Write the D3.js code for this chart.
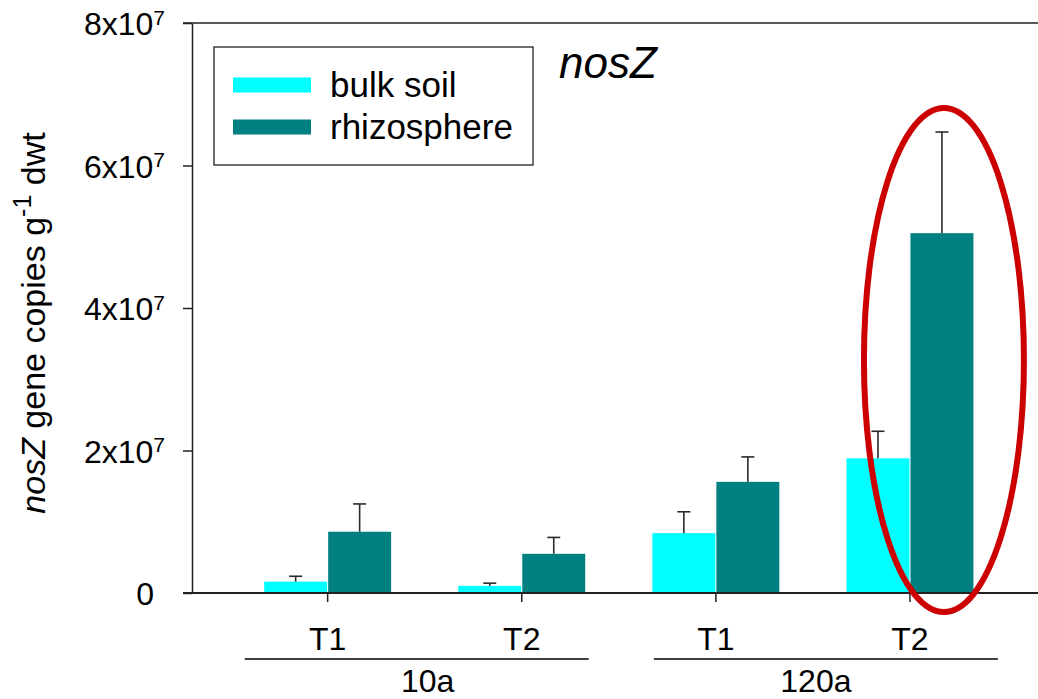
<!DOCTYPE html>
<html>
<head>
<meta charset="utf-8">
<script src="https://cdn.jsdelivr.net/npm/d3@7"></script>
<style>
  html, body { margin: 0; padding: 0; background: #fff; }
  svg { display: block; font-family: "Liberation Sans", Arial, sans-serif; }
</style>
</head>
<body>
<svg id="chart" width="1038" height="699"></svg>
<script>
// nosZ gene abundance: bulk soil vs rhizosphere, two sampling times at two site ages
const categories = ["10a-T1", "10a-T2", "120a-T1", "120a-T2"];
const timeLabels = ["T1", "T2", "T1", "T2"];
const groups = ["10a", "120a"];
const groupMembers = [["10a-T1", "10a-T2"], ["120a-T1", "120a-T2"]];
const seriesNames = ["bulk soil", "rhizosphere"];
const bulkValues = [1.6e6, 1.0e6, 8.4e6, 18.9e6];
const bulkErrors = [0.75e6, 0.38e6, 3.0e6, 3.8e6];
const rhizoValues = [8.6e6, 5.5e6, 15.6e6, 50.5e6];
const rhizoErrors = [3.9e6, 2.3e6, 3.5e6, 14.2e6];
const yTickValues = [0, 2e7, 4e7, 6e7, 8e7];
const yTickLabels = ["0", "2x10|7", "4x10|7", "6x10|7", "8x10|7"];

const colors = { "bulk soil": "#00ffff", "rhizosphere": "#008080" };

const svg = d3.select("#chart");

// plot frame
const plotLeft = 192, plotRight = 1038, plotTop = 23, plotBottom = 593;

const y = d3.scaleLinear().domain([0, 8e7]).range([plotBottom, plotTop]);

const x = d3.scaleBand()
  .domain(categories)
  .range([230.6, 1007])
  .paddingInner(0.346)
  .paddingOuter(0.173);

const xSub = d3.scaleBand()
  .domain(seriesNames)
  .range([0, x.bandwidth()])
  .paddingInner(0.016);

// rows of data for bars
const rows = [];
categories.forEach((c, i) => {
  rows.push({ cat: c, series: "bulk soil", value: bulkValues[i], err: bulkErrors[i] });
  rows.push({ cat: c, series: "rhizosphere", value: rhizoValues[i], err: rhizoErrors[i] });
});

// bars
svg.append("g").selectAll("rect")
  .data(rows)
  .join("rect")
  .attr("x", d => x(d.cat) + xSub(d.series))
  .attr("width", xSub.bandwidth())
  .attr("y", d => y(d.value))
  .attr("height", d => y(0) - y(d.value))
  .attr("fill", d => colors[d.series]);

// upper error bars
const eb = svg.append("g").attr("stroke", "#2a2a2a").attr("stroke-width", 1.6);
rows.forEach(d => {
  const cx = x(d.cat) + xSub(d.series) + xSub.bandwidth() / 2;
  eb.append("line")
    .attr("x1", cx).attr("x2", cx)
    .attr("y1", y(d.value)).attr("y2", y(d.value + d.err));
  eb.append("line")
    .attr("x1", cx - 6.5).attr("x2", cx + 6.5)
    .attr("y1", y(d.value + d.err)).attr("y2", y(d.value + d.err));
});

// y axis
const yAxis = svg.append("g")
  .attr("transform", `translate(${plotLeft},0)`)
  .call(d3.axisLeft(y).tickValues(yTickValues).tickSize(9).tickSizeOuter(0).tickFormat(""));
yAxis.select(".domain").attr("stroke", "#222").attr("stroke-width", 1.5);
yAxis.selectAll(".tick line").attr("stroke", "#222").attr("stroke-width", 1.5);
yAxis.selectAll(".tick text").remove();
yAxis.selectAll(".tick").each(function (v, i) {
  const parts = yTickLabels[i].split("|");
  const t = d3.select(this).append("text")
    .attr("fill", "#000")
    .attr("font-size", 32)
    .attr("text-anchor", "end")
    .attr("dy", "0.36em");
  if (parts.length === 1) {
    t.attr("x", -38).text(parts[0]);
  } else {
    t.attr("x", -27);
    t.append("tspan").text(parts[0]);
    t.append("tspan").attr("font-size", 21).attr("dy", "-0.5em").text(parts[1]);
  }
});

// top frame line across the plot
svg.append("line")
  .attr("x1", plotLeft - 9).attr("x2", plotRight)
  .attr("y1", plotTop).attr("y2", plotTop)
  .attr("stroke", "#222").attr("stroke-width", 1.6);

// x axis
const xAxis = svg.append("g")
  .attr("transform", `translate(0,${plotBottom})`)
  .call(d3.axisBottom(x).tickSize(9).tickPadding(25.6).tickFormat((d, i) => timeLabels[i]));
xAxis.select(".domain").remove();
xAxis.selectAll(".tick line").attr("stroke", "#222").attr("stroke-width", 1.5);
xAxis.selectAll(".tick text").attr("font-size", 32).attr("fill", "#000");
svg.append("line")
  .attr("x1", plotLeft - 9).attr("x2", plotRight)
  .attr("y1", plotBottom).attr("y2", plotBottom)
  .attr("stroke", "#222").attr("stroke-width", 1.8);

// site-age group labels with underline bars
const groupShift = [-8, 13];
groups.forEach((g, i) => {
  const m = groupMembers[i];
  const mid = (x(m[0]) + x(m[m.length - 1]) + x.bandwidth()) / 2;
  svg.append("line")
    .attr("x1", mid - 172 + groupShift[i]).attr("x2", mid + 172 + groupShift[i])
    .attr("y1", 659).attr("y2", 659)
    .attr("stroke", "#000").attr("stroke-width", 1.3);
  svg.append("text")
    .attr("x", mid + 3).attr("y", 692)
    .attr("text-anchor", "middle")
    .attr("font-size", 32)
    .text(g);
});

// y axis title
const yTitle = svg.append("text")
  .attr("transform", "translate(45,323) rotate(-90)")
  .attr("text-anchor", "middle")
  .attr("font-size", 34);
yTitle.append("tspan").attr("font-style", "italic").text("nosZ");
yTitle.append("tspan").text(" gene copies g");
yTitle.append("tspan").attr("font-size", 25).attr("dy", "-0.55em").text("-1");
yTitle.append("tspan").attr("dy", "0.4em").text(" dwt");

// panel title
svg.append("text")
  .attr("x", 559).attr("y", 78)
  .attr("font-size", 44)
  .attr("font-style", "italic")
  .text("nosZ");

// legend
const legend = svg.append("g");
legend.append("rect")
  .attr("x", 214).attr("y", 47)
  .attr("width", 319).attr("height", 118)
  .attr("fill", "#fff").attr("stroke", "#222").attr("stroke-width", 1.3);
seriesNames.forEach((s, i) => {
  const yy = 77.5 + i * 42;
  legend.append("rect")
    .attr("x", 233).attr("y", yy)
    .attr("width", 78).attr("height", 15)
    .attr("fill", colors[s]);
  legend.append("text")
    .attr("x", 330).attr("y", yy + 19)
    .attr("font-size", 35)
    .text(s);
});

// highlight ellipse around the 120a T2 rhizosphere bar
const hiCat = "120a-T2";
svg.append("ellipse")
  .attr("cx", x(hiCat) + xSub("rhizosphere") + xSub.bandwidth() / 2 + 2)
  .attr("cy", (y(0) + y(8e7)) / 2 + 52)
  .attr("rx", 80)
  .attr("ry", 252)
  .attr("fill", "none")
  .attr("stroke", "#cc0000")
  .attr("stroke-width", 6);
</script>
</body>
</html>
